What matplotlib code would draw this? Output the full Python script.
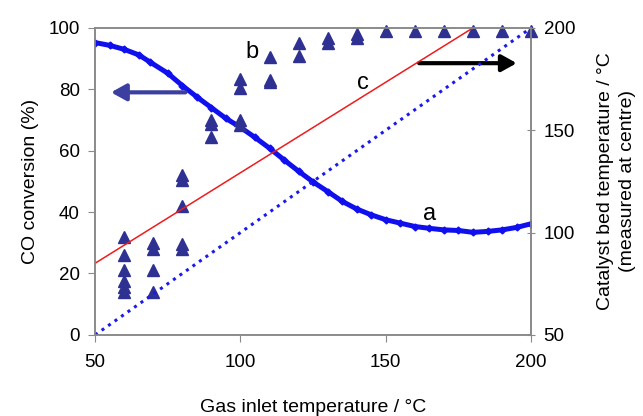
import matplotlib.pyplot as plt

plt.rcParams["font.family"] = ["Liberation Sans", "DejaVu Sans"]

# curve a: CO conversion (%) vs gas inlet temperature
inlet_a = [50, 55, 60, 65, 69, 75, 80, 85, 90, 95, 100, 105, 110, 115, 120,
           125, 130, 135, 140, 145, 150, 155, 160, 165, 170, 175, 180, 185,
           190, 195, 200]
conv_a = [95.2, 94.3, 93.0, 91.2, 88.8, 85.2, 81.2, 77.5, 74.0, 70.5, 67.6,
          64.3, 60.8, 57.0, 53.3, 49.8, 46.7, 43.5, 41.0, 39.1, 37.5, 36.4,
          35.3, 34.7, 34.2, 34.0, 33.4, 33.7, 34.2, 35.0, 36.2]

# series b: CO conversion (%) measured points
inlet_b = [60, 60, 60, 60, 60, 60,
           70, 70, 70, 70,
           80, 80, 80, 80, 80,
           90, 90, 90,
           100, 100, 100, 100,
           110, 110, 110,
           120, 120,
           130, 130,
           140, 140,
           150, 160, 170, 180, 190, 200]
conv_b = [32, 26, 21, 17.5, 15.5, 14,
          30, 28, 21, 14,
          52, 50.5, 42, 29.5, 28,
          70, 68.7, 64.4,
          83.5, 80.5, 70, 68.4,
          90.6, 83, 82.3,
          95, 91,
          96.8, 95,
          97.9, 96.6,
          99, 99, 99, 99, 99, 99]

# line c: catalyst bed temperature (right axis)
inlet_c = [50, 180]
bed_c = [85, 200]

# dotted reference: bed temperature = inlet temperature
inlet_ref = [50, 200]
bed_ref = [50, 200]

fig = plt.figure(figsize=(6.43, 4.16), dpi=100)
ax = fig.add_axes([0.148, 0.195, 0.678, 0.738])
ax2 = ax.twinx()

ax.plot(inlet_a, conv_a, color="#1010ee", lw=3.6, solid_capstyle="round",
        marker="D", ms=3.5, zorder=3)
ax.plot(inlet_b, conv_b, linestyle="none", marker="^", ms=8,
        color="#2e3192", clip_on=False, zorder=4)

ax2.plot(inlet_c, bed_c, color="#ee1c1c", lw=1.1)
ax2.plot(inlet_ref, bed_ref, color="#1a1aee", lw=2.2, linestyle=(0, (1, 1.6)))

ax.set_xlim(50, 200)
ax.set_ylim(0, 100)
ax2.set_ylim(50, 200)
ax.set_xticks([50, 100, 150, 200])
ax.set_yticks([0, 20, 40, 60, 80, 100])
ax2.set_yticks([50, 100, 150, 200])

for a in (ax, ax2):
    for s in a.spines.values():
        s.set_color("#8a8a8a")
        s.set_linewidth(1.2)

ax.tick_params(axis="both", direction="out", length=5, color="#8a8a8a",
               labelsize=13.5, pad=6)
ax.tick_params(axis="x", pad=9)
ax2.tick_params(axis="y", direction="inout", length=6, color="#8a8a8a",
                labelsize=13.5, pad=6)

ax.set_xlabel("Gas inlet temperature / °C", fontsize=14, labelpad=20)
ax.set_ylabel("CO conversion (%)", fontsize=14, labelpad=7)
ax2.set_ylabel("Catalyst bed temperature / °C\n(measured at centre)",
               fontsize=14, labelpad=16, linespacing=1.35)

ax.annotate("", xy=(54.5, 79), xytext=(82, 79),
            arrowprops=dict(arrowstyle="-|>,head_length=0.9,head_width=0.5",
                            color="#3b3fa0", lw=3), zorder=5)
ax.annotate("", xy=(196, 88.5), xytext=(160.5, 88.5),
            arrowprops=dict(arrowstyle="-|>,head_length=0.9,head_width=0.5",
                            color="black", lw=3), zorder=5)

ax.text(104, 92, "b", fontsize=17, ha="center", va="center")
ax.text(142, 82, "c", fontsize=17, ha="center", va="center")
ax.text(165, 39.5, "a", fontsize=17, ha="center", va="center")

fig.savefig("out.png", dpi=100)
